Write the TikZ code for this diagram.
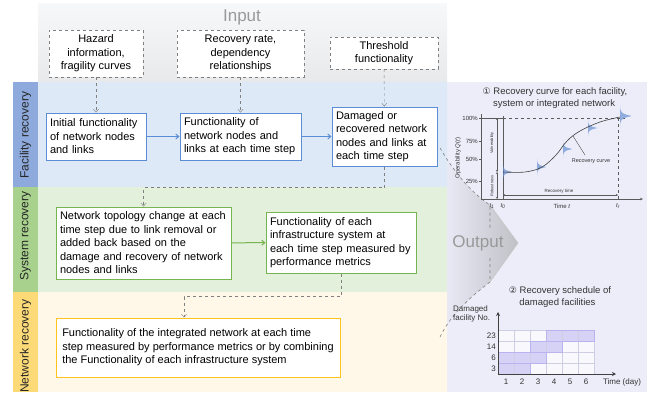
\documentclass[tikz,border=0pt]{standalone}
\usepackage{fontspec}
\setmainfont{Liberation Sans}
\newfontfamily\dejavu{DejaVu Sans}
\usetikzlibrary{arrows.meta}
\definecolor{inputtop}{RGB}{247,248,250}
\definecolor{inputbot}{RGB}{232,233,235}
\definecolor{facbg}{RGB}{222,233,247}
\definecolor{faccol}{RGB}{142,169,219}
\definecolor{sysbg}{RGB}{227,240,219}
\definecolor{syscol}{RGB}{169,209,142}
\definecolor{netbg}{RGB}{255,247,232}
\definecolor{netcol}{RGB}{252,218,120}
\definecolor{lavbg}{RGB}{237,237,250}
\definecolor{bluebd}{RGB}{91,141,214}
\definecolor{greenbd}{RGB}{118,180,80}
\definecolor{goldbd}{RGB}{255,195,30}
\definecolor{dashgray}{RGB}{128,128,128}
\definecolor{bellblue}{RGB}{105,145,210}
\definecolor{cellfill}{RGB}{214,210,245}
\definecolor{cellbd}{RGB}{185,180,240}
\definecolor{cellline}{RGB}{205,205,228}
\definecolor{axisgray}{RGB}{90,90,90}
\definecolor{arrowgray}{RGB}{192,192,198}
\tikzset{
  txt/.style={font=\fontsize{11}{13.5}\selectfont},
  inbox/.style={txt, draw=dashgray, dashed, fill=white, align=center, inner sep=2pt},
  fbox/.style={txt, draw=bluebd, line width=1pt, fill=white, align=left, inner xsep=4pt},
  sbox/.style={txt, draw=greenbd, line width=1pt, fill=white, align=left, inner xsep=4pt},
  nbox/.style={txt, draw=goldbd, line width=1pt, fill=white, align=left, inner xsep=4pt},
  dasharrow/.style={draw=dashgray, dashed, -{Straight Barb[length=3pt,width=5pt]}},
  bluearrow/.style={draw=bluebd, line width=1pt, -{Straight Barb[length=3pt,width=5pt]}},
  greenarrow/.style={draw=greenbd, line width=1pt, -{Straight Barb[length=3pt,width=5pt]}},
  collabel/.style={rotate=90, font=\fontsize{12}{14}\selectfont, text=black!85},
  tiny/.style={font=\fontsize{6}{7}\selectfont, text=black!80},
  small/.style={font=\fontsize{8}{9.5}\selectfont, text=black!80},
  ttl/.style={font=\fontsize{9.5}{11.5}\selectfont, text=black!80, align=left},
}
\begin{document}
\begin{tikzpicture}[x=1pt,y=-1pt]
\useasboundingbox (0,0) rectangle (647,392);
% bands
\shade[top color=inputtop, bottom color=inputbot] (38,3) rectangle (447,82);
\fill[facbg] (38,82) rectangle (447,187);
\fill[sysbg] (38,187) rectangle (447,292);
\fill[netbg] (38,292) rectangle (447,392);
\fill[faccol] (13,82) rectangle (38,187);
\fill[syscol] (13,187) rectangle (38,292);
\fill[netcol] (13,292) rectangle (38,392);
\fill[lavbg] (447,82) rectangle (647,392);
\node[collabel] (lf) at (25.5,135) {Facility recovery};
\node[collabel] (ls) at (25.5,236) {System recovery};
\node[collabel] (ln) at (25.5,346) {Network recovery};
\node[font=\fontsize{17}{20}\selectfont, text=black!40] (inp) at (242,17) {Input};

% output arrow
\begin{scope}
\clip (447,0) rectangle (647,392);
\shade[left color=lavbg, right color=arrowgray] (440,148) .. controls (456,175) and (472,193) .. (490,205) -- (518,243) -- (490,282) .. controls (466,300) and (449,318) .. (440,337) -- cycle;
\end{scope}
\draw[dashgray, dashed, line width=0.6pt] (440,148) .. controls (456,175) and (472,193) .. (490,205) -- (490,228);
\draw[dashgray, dashed, line width=0.6pt] (490,258) -- (490,282) .. controls (466,300) and (449,318) .. (440,337);
\draw[black!22, line width=0.6pt] (490,205) -- (518,243) -- (490,282);
\node[font=\fontsize{17}{20}\selectfont, text=black!40] (outp) at (478,243) {Output};

% input boxes
\node[inbox, minimum width=94pt, minimum height=47pt] (in1) at (96,53.5) {Hazard\\information,\\fragility curves};
\node[inbox, minimum width=127pt, minimum height=47pt] (in2) at (240.5,53.5) {Recovery rate,\\dependency\\relationships};
\node[inbox, minimum width=108pt, minimum height=32pt] (in3) at (384,53) {Threshold\\functionality};

% facility boxes
\node[fbox, text width=92pt, minimum height=47pt] (A) at (96,136.5) {Initial functionality\\of network nodes\\and links};
\node[fbox, text width=113pt, minimum height=47pt] (B) at (240.5,136.5) {Functionality of\\network nodes and\\links at each time step};
\node[fbox, text width=97pt, minimum height=59pt] (C) at (384.5,136.5) {Damaged or\\recovered network\\nodes and links at\\each time step};
% system boxes
\node[sbox, text width=167pt, minimum height=72pt] (D) at (143.5,243) {Network topology change at each\\time step due to link removal or\\added back based on the\\damage and recovery of network\\nodes and links};
\node[sbox, text width=142pt, minimum height=61pt] (E) at (341,242.5) {Functionality of each\\infrastructure system at\\each time step measured by\\performance metrics};
% network box
\node[nbox, minimum width=284pt, minimum height=59pt] (F) at (198,347.5) {Functionality of the integrated network at each time\\step measured by performance metrics or by combining\\the Functionality of each infrastructure system};

% connectors
\draw[dasharrow] (in1) -- (A);
\draw[dasharrow] (in2) -- (B);
\draw[dasharrow] (in3) -- (C);
\draw[bluearrow] (A) -- (B);
\draw[bluearrow] (B) -- (C.west |- B.east);
\draw[greenarrow] (D) -- (E);
\draw[dasharrow] (C.south) -- ++(0,21) -| (D.north);
\draw[dasharrow] (E.south) -- ++(0,23) -| ([xshift=-14pt]F.north);

% ---------- panel 1: recovery curve ----------
\node[ttl] (t1) at (555,98) {{\dejavu\fontsize{9}{11}\selectfont ①} Recovery curve for each facility,\\\hspace{1.1em}system or integrated network};
\coordinate (o) at (481,199);
\coordinate (ytop) at (481,114);
\coordinate (xend) at (643,199);
\draw[axisgray, line width=0.6pt] (ytop) -- (o);
\draw[axisgray, line width=0.6pt, -{Stealth[length=3pt,width=2.5pt]}] (o) -- (xend);
\foreach \yy/\lab in {118/100\%,141/75\%,159/50\%,181/25\%}{
  \draw[axisgray, line width=0.4pt] (479,\yy) -- (481,\yy);
  \node[tiny, anchor=east, inner sep=1pt] at (479,\yy) {\lab};
}
\node[tiny, rotate=90] (oq) at (458,158) {Operability \textit{Q}(\textit{t})};
\draw[axisgray, line width=0.6pt] (481,118) -- (503,118);
\draw[axisgray, dashed, line width=0.5pt] (503,118) -- (625,118);
\draw[axisgray, dashed, line width=0.5pt] (618,118) -- (618,199);
\draw[axisgray, line width=0.6pt] (503,116) -- (503,199);
\draw[axisgray, line width=0.4pt, {Stealth[length=2pt,width=2pt]}-{Stealth[length=2pt,width=2pt]}] (497,118) -- (497,172);
\draw[axisgray, line width=0.4pt, {Stealth[length=2pt,width=2pt]}-{Stealth[length=2pt,width=2pt]}] (497,172) -- (497,199);
\node[font=\fontsize{4}{5}\selectfont, rotate=90, text=black!80] (vul) at (492,143) {Vulnerability};
\node[font=\fontsize{4}{5}\selectfont, rotate=90, text=black!80] (rob) at (492,186) {Robustness};
\draw[axisgray, line width=0.4pt, {Stealth[length=2pt,width=2pt]}-{Stealth[length=2pt,width=2pt]}] (503,195) -- (618,195);
\node[font=\fontsize{4.5}{5}\selectfont, text=black!80] (rt) at (559,191.5) {Recovery time};
\foreach \bx/\by/\bs in {503/172/1, 537/167/1, 563/149/1, 588/128/1, 620/116/1.25}{
  \fill[bellblue, opacity=0.7] plot[domain=-9:9, samples=40, smooth] ({\bx+\bs*10*exp(-abs(\x)/1.6)},{\by+\bs*\x}) -- cycle;
}
\draw[black!75, line width=0.6pt] plot[smooth, tension=0.6] coordinates {(503,172) (525,172) (542,167) (556,155) (567,141) (580,131) (600,122) (620,117)};
\coordinate (cpt) at (573,136);
\node[font=\fontsize{5.5}{6}\selectfont, text=black!80] (rc) at (591,161) {Recovery curve};
\draw[black!70, line width=0.4pt] ([xshift=-6pt]rc.north) -- (cpt);
\node[font=\fontsize{6}{7}\selectfont\itshape, text=black!80] (t1l) at (492,206) {t\textsubscript{1}};
\node[font=\fontsize{6}{7}\selectfont\itshape, text=black!80] (t0l) at (503,206) {t\textsubscript{0}};
\node[font=\fontsize{6}{7}\selectfont\itshape, text=black!80] (trl) at (618,206) {t\textsubscript{r}};
\node[tiny] (tt) at (562,206.5) {Time \textit{t}};

% ---------- panel 2: schedule ----------
\node[ttl] (t2) at (560,297) {{\dejavu\fontsize{9}{11}\selectfont ②} Recovery schedule of\\\hspace{1.1em}damaged facilities};
\node[small, align=left, anchor=north west, inner sep=0pt] (dfn) at (453,305) {Damaged\\facility No.};
\foreach \c in {1,...,6}{
  \foreach \r in {1,...,4}{
    \fill[white!60!lavbg] (498+16*\c-16,330+11*\r-11) rectangle (498+16*\c,330+11*\r);
  }
}
\foreach \c/\r in {4/1,5/1,6/1,3/2,4/2,1/3,2/3,3/3,1/4,2/4}{
  \fill[cellfill] (498+16*\c-16,330+11*\r-11) rectangle (498+16*\c,330+11*\r);
}
\foreach \c in {0,...,6}{ \draw[cellline, line width=0.4pt] (498+16*\c,330) -- (498+16*\c,374); }
\foreach \r in {0,...,4}{ \draw[cellline, line width=0.4pt] (498,330+11*\r) -- (594,330+11*\r); }
\draw[cellbd, line width=0.6pt] (546,330) rectangle (594,341);
\draw[cellbd, line width=0.6pt] (530,341) rectangle (562,352);
\draw[cellbd, line width=0.6pt] (498,352) rectangle (546,363);
\draw[cellbd, line width=0.6pt] (498,363) rectangle (530,374);
\draw[black!75, line width=0.6pt, -{Stealth[length=4pt,width=4pt]}] (498,374) -- (498,312);
\draw[black!75, line width=0.6pt, -{Stealth[length=4pt,width=4pt]}] (498,374) -- (616,374);
\foreach \r/\lab in {1/23,2/14,3/6,4/3}{
  \node[small, anchor=east, inner sep=1pt] at (497,330+11*\r-5.5) {\lab};
}
\foreach \c in {1,...,6}{
  \node[small] at (498+16*\c-8,382) {\c};
}
\node[small] (td) at (622,382) {Time (day)};
\end{tikzpicture}
\end{document}
